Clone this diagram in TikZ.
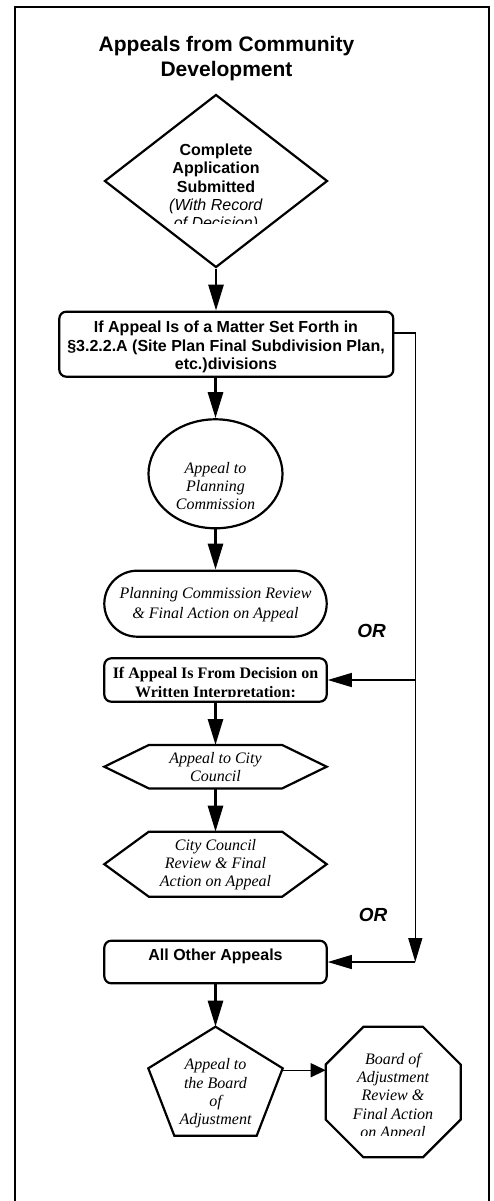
\documentclass[tikz,border=0pt]{standalone}
\usepackage{fontspec}
\setmainfont{Liberation Serif}
\setsansfont{Liberation Sans}
\usetikzlibrary{arrows.meta,shapes.geometric}

\begin{document}
\begin{tikzpicture}[x=1pt,y=-1pt,
  outline/.style={draw, line width=2.2pt, line join=miter},
  roundbox/.style={outline, rounded corners=7pt, inner sep=0pt},
  frame/.style={line width=1.5pt},
  holder/.style={inner sep=0pt, outer sep=0pt},
  flow/.style={line width=2.8pt, -{Triangle[length=26pt,width=15pt]}},
  branch/.style={line width=1.4pt, line join=miter, -{Triangle[length=24pt,width=14pt]}},
  sidearrow/.style={line width=1.4pt, -{Triangle[length=15pt,width=14pt]}},
  heading/.style={font=\sffamily\bfseries\fontsize{21}{25}\selectfont, align=center, inner sep=0pt},
  sanstext/.style={font=\sffamily\fontsize{16}{18.3}\selectfont, align=center, inner sep=0pt},
  boldsans/.style={font=\sffamily\bfseries\fontsize{16}{18.3}\selectfont, align=center, inner sep=0pt},
  boldserif/.style={font=\bfseries\fontsize{16}{19}\selectfont, align=center, inner sep=0pt},
  italserif/.style={font=\itshape\fontsize{16}{18.3}\selectfont, align=center, inner sep=0pt},
  orlabel/.style={font=\sffamily\bfseries\itshape\fontsize{19}{22}\selectfont, inner sep=0pt}
]
\useasboundingbox (0,0) rectangle (494,1201);

% outer frame, open at the bottom
\draw[frame] (15,1201) -- (15,7) -- (489,7) -- (489,1201);

% heading
\node[heading] (title) at (226.5,58.5) {Appeals from Community\\Development};

% start: complete application
\node[diamond, outline, minimum width=223pt, minimum height=173pt, inner sep=0pt] (start) at (216,181) {};
\begin{scope}
  \clip (100,130) rectangle (330,223.5);
  \node[sanstext] (startText) at (216,188)
    {\textbf{Complete}\\\textbf{Application}\\\textbf{Submitted}\\\textit{(With Record}\\\textit{of Decision)}};
\end{scope}

% branch 1: matters of section 3.2.2.A
\node[roundbox, minimum width=334pt, minimum height=65pt] (box1) at (226.3,344.2) {};
\node[boldsans] (box1Text) at (226,347)
  {If Appeal Is of a Matter Set Forth in\\§3.2.2.A (Site Plan Final Subdivision Plan,\\etc.)divisions};

\node[ellipse, outline, minimum width=134pt, minimum height=109pt, inner sep=0pt] (pcAppeal) at (215.5,473.8) {};
\node[italserif] (pcAppealText) at (215.5,486) {Appeal to\\Planning\\Commission};

\node[outline, rounded corners=33pt, minimum width=222.4pt, minimum height=66pt, inner sep=0pt] (pcReview) at (215.5,603.7) {};
\node[italserif, font=\itshape\fontsize{16}{19.5}\selectfont] (pcReviewText) at (215.5,604.5)
  {Planning Commission Review\\\& Final Action on Appeal};

% branch 2: written interpretation
\node[orlabel] (or1) at (371.7,631) {OR};
\node[roundbox, minimum width=222.4pt, minimum height=43.4pt] (box2) at (215.5,680) {};
\begin{scope}
  \clip (106,660) rectangle (325,696.5);
  \node[boldserif] (box2Text) at (215.5,684) {If Appeal Is From Decision on\\Written Interpretation:};
\end{scope}

\node[holder, italserif, minimum width=222.4pt, minimum height=43.4pt] (ccAppeal) at (215.5,766.7)
  {Appeal to City\\Council};
\draw[outline] (ccAppeal.west) -- ([xshift=44.5pt]ccAppeal.north west) -- ([xshift=-44.5pt]ccAppeal.north east)
  -- (ccAppeal.east) -- ([xshift=-44.5pt]ccAppeal.south east) -- ([xshift=44.5pt]ccAppeal.south west) -- cycle;

\node[holder, italserif, minimum width=222.4pt, minimum height=65pt, font=\itshape\fontsize{16}{18}\selectfont] (ccReview) at (215.5,864.2)
  {City Council\\Review \& Final\\Action on Appeal};
\draw[outline] (ccReview.west) -- ([xshift=44.5pt]ccReview.north west) -- ([xshift=-44.5pt]ccReview.north east)
  -- (ccReview.east) -- ([xshift=-44.5pt]ccReview.south east) -- ([xshift=44.5pt]ccReview.south west) -- cycle;

% branch 3: all other appeals
\node[orlabel] (or2) at (373,914.5) {OR};
\node[roundbox, minimum width=222.4pt, minimum height=42.6pt] (box3) at (215.5,962) {};
\node[boldsans] (box3Text) at (215.5,956) {All Other Appeals};

\node[holder, minimum width=134.4pt, minimum height=109pt] (boaAppeal) at (215.5,1081.2) {};
\draw[outline] (boaAppeal.north) -- ([yshift=12.9pt]boaAppeal.east) -- ([xshift=-26pt]boaAppeal.south east)
  -- ([xshift=26pt]boaAppeal.south west) -- ([yshift=12.9pt]boaAppeal.west) -- cycle;
\node[italserif] (boaAppealText) at (215.5,1093.5) {Appeal to\\the Board\\of\\Adjustment};

\node[holder, minimum width=135pt, minimum height=130.6pt] (boaReview) at (393.2,1092) {};
\draw[outline] ([xshift=37.8pt]boaReview.north west) -- ([xshift=-37.8pt]boaReview.north east)
  -- ([yshift=-37.8pt]boaReview.north east) -- ([yshift=37.8pt]boaReview.south east)
  -- ([xshift=-37.8pt]boaReview.south east) -- ([xshift=37.8pt]boaReview.south west)
  -- ([yshift=37.8pt]boaReview.south west) -- ([yshift=-37.8pt]boaReview.north west) -- cycle;
\begin{scope}
  \clip (328,1030) rectangle (458,1135);
  \node[italserif] (boaReviewText) at (393,1097)
    {Board of\\Adjustment\\Review \&\\Final Action\\on Appeal};
\end{scope}

% main flow connectors
\draw[flow] (start.south) -- (start.south |- box1.north);
\draw[flow] (pcAppeal.north |- box1.south) -- (pcAppeal.north);
\draw[flow] (pcAppeal.south) -- (pcReview.north);
\draw[flow] (box2.south) -- (ccAppeal.north);
\draw[flow] (ccAppeal.south) -- (ccReview.north);
\draw[flow] (box3.south) -- (boaAppeal.north);

% alternative routes on the right
\coordinate (railTop) at (415.3,333);
\coordinate (railBottom) at (railTop |- box3.east);
\draw[branch] (box1.east |- railTop) -- (railTop) -- (railBottom);
\draw[branch] (railTop |- box2.east) -- (box2.east);
\draw[branch] (railBottom) -- (box3.east);

% board of adjustment review
\coordinate (boaOut) at ([yshift=11pt]boaAppeal.east);
\draw[sidearrow] (boaOut) -- (boaOut -| boaReview.west);
\end{tikzpicture}
\end{document}
